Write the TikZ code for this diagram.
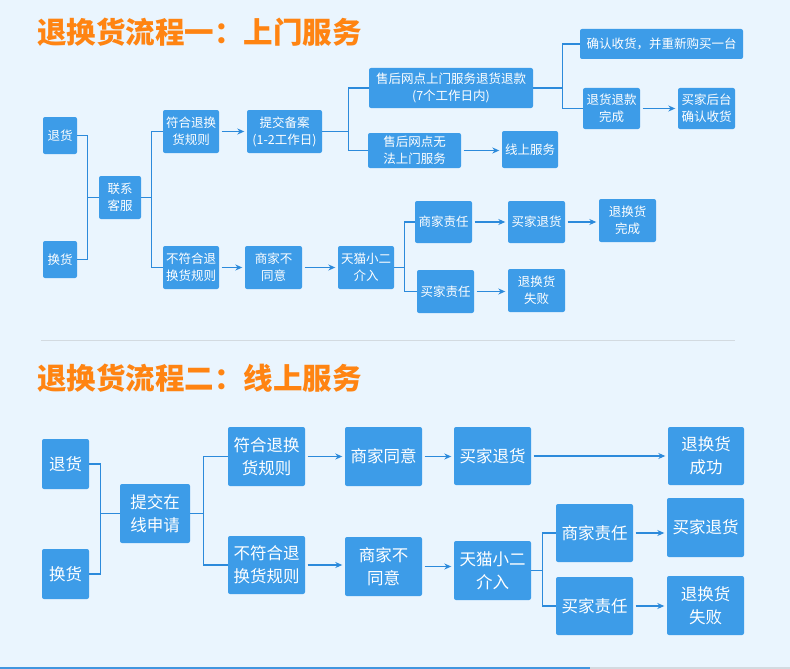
\documentclass[tikz,border=0pt]{standalone}
\usepackage{fontspec}
\setmainfont{Noto Sans CJK SC}
\usetikzlibrary{arrows.meta}
\definecolor{boxblue}{HTML}{3D9CE8}
\definecolor{lineblue}{HTML}{2C8ADB}
\definecolor{bgblue}{HTML}{EAF5FE}
\definecolor{ttl}{HTML}{FF8412}
\definecolor{sepgray}{HTML}{D3DAE0}
\newcommand\mybox[6]{\node[box,minimum width={#4-#2},minimum height={#5-#3}] (#1) at ({(#2+#4)/2},{(#3+#5)/2}) {#6};}
\newcommand\harrow[2]{\draw[arr] (#1.east) -- (#1.east -| #2.west);}
\tikzset{
  box/.style={fill=boxblue, rounded corners=2pt, text=white, inner sep=0pt, align=center},
  conn/.style={draw=lineblue, line width=1.3pt},
  arr/.style={conn, -{Stealth[length=7pt,width=6pt]}, shorten <=2.5pt, shorten >=2.5pt},
  ttlstyle/.style={text=ttl, inner sep=0pt, anchor=west, font=\bfseries\fontsize{29.5}{32}\selectfont},
  topfont/.style={font=\fontsize{12.5}{17}\selectfont},
  botfont/.style={font=\fontsize{16.5}{23}\selectfont}
}
\begin{document}
\begin{tikzpicture}[x=1pt,y=-1pt]
\fill[bgblue] (0,0) rectangle (790,669);
\useasboundingbox (0,0) rectangle (790,669);
% separators
\draw[sepgray, line width=1.5pt] (41,340.5) -- (735,340.5);
\fill[lineblue!90] (0,666.5) rectangle (590,669);
\fill[sepgray] (590,666.5) rectangle (790,669);
% titles
\node[ttlstyle] (title1) at (37,32) {退换货流程一：上门服务};
\node[ttlstyle] (title2) at (37,378) {退换货流程二：线上服务};
% ---------- top section ----------
\begin{scope}[topfont]
\mybox{t1}{43}{117}{77}{154}{退货}
\mybox{t2}{43}{241}{77}{278}{换货}
\mybox{kf}{99}{176}{141}{219}{联系\\客服}
\mybox{fh}{163}{110}{219}{153}{符合退换\\货规则}
\mybox{bf}{163}{246}{219}{289}{不符合退\\换货规则}
\mybox{ba}{247}{110}{322}{153}{提交备案\\(1-2工作日)}
\mybox{s1}{369}{68}{533}{108}{售后网点上门服务退货退款\\(7个工作日内)}
\mybox{s2}{368}{133}{461}{168}{售后网点无\\法上门服务}
\mybox{xs}{502}{131}{558}{168}{线上服务}
\mybox{qr}{580}{29}{743}{59}{确认收货，并重新购买一台}
\mybox{tk}{583}{88}{640}{129}{退货退款\\完成}
\mybox{mj}{678}{88}{735}{129}{买家后台\\确认收货}
\mybox{sb}{245}{246}{302}{289}{商家不\\同意}
\mybox{tm}{338}{246}{394}{289}{天猫小二\\介入}
\mybox{sz}{415}{201}{472}{243}{商家责任}
\mybox{mz}{417}{270}{474}{313}{买家责任}
\mybox{mt}{508}{201}{565}{243}{买家退货}
\mybox{wc}{599}{199}{656}{242}{退换货\\完成}
\mybox{sf}{508}{269}{565}{312}{退换货\\失败}
\end{scope}
\draw[conn] (t1.east) -- ++(10,0) |- (kf.west);
\draw[conn] (t2.east) -- ++(10,0) |- (kf.west);
\draw[conn] (kf.east) -- ++(10,0) |- (fh.west);
\draw[conn] (kf.east) -- ++(10,0) |- (bf.west);
\harrow{fh}{ba}
\draw[conn] (ba.east) -- ++(26,0) |- (s1.west);
\draw[conn] (ba.east) -- ++(26,0) |- (s2.west);
\harrow{s2}{xs}
\draw[conn] (s1.east) -- ++(29,0) |- (qr.west);
\draw[conn] (s1.east) -- ++(29,0) |- (tk.west);
\harrow{tk}{mj}
\harrow{bf}{sb}
\harrow{sb}{tm}
\draw[conn] (tm.east) -- ++(10,0) |- (sz.west);
\draw[conn] (tm.east) -- ++(10,0) |- (mz.west);
\harrow{sz}{mt}
\harrow{mt}{wc}
\harrow{mz}{sf}
% ---------- bottom section ----------
\begin{scope}[botfont]
\mybox{u1}{42}{439}{89}{489}{退货}
\mybox{u2}{42}{549}{89}{599}{换货}
\mybox{tj}{120}{484}{190}{543}{提交在\\线申请}
\mybox{uf}{228}{427}{305}{486}{符合退换\\货规则}
\mybox{ub}{228}{536}{305}{594}{不符合退\\换货规则}
\mybox{ut}{345}{427}{422}{486}{商家同意}
\mybox{us}{345}{537}{422}{596}{商家不\\同意}
\mybox{um}{454}{427}{531}{485}{买家退货}
\mybox{cg}{668}{427}{744}{485}{退换货\\成功}
\mybox{ux}{454}{541}{531}{600}{天猫小二\\介入}
\mybox{uz}{556}{504}{633}{562}{商家责任}
\mybox{uy}{556}{577}{633}{635}{买家责任}
\mybox{uk}{667}{498}{744}{557}{买家退货}
\mybox{ush}{667}{576}{744}{635}{退换货\\失败}
\end{scope}
\draw[conn] (u1.east) -- ++(11,0) |- (tj.west);
\draw[conn] (u2.east) -- ++(11,0) |- (tj.west);
\draw[conn] (tj.east) -- ++(13,0) |- (uf.west);
\draw[conn] (tj.east) -- ++(13,0) |- (ub.west);
\harrow{uf}{ut}
\harrow{ub}{us}
\harrow{ut}{um}
\harrow{um}{cg}
\harrow{us}{ux}
\draw[conn] (ux.east) -- ++(11,0) |- (uz.west);
\draw[conn] (ux.east) -- ++(11,0) |- (uy.west);
\harrow{uz}{uk}
\harrow{uy}{ush}
\end{tikzpicture}
\end{document}
